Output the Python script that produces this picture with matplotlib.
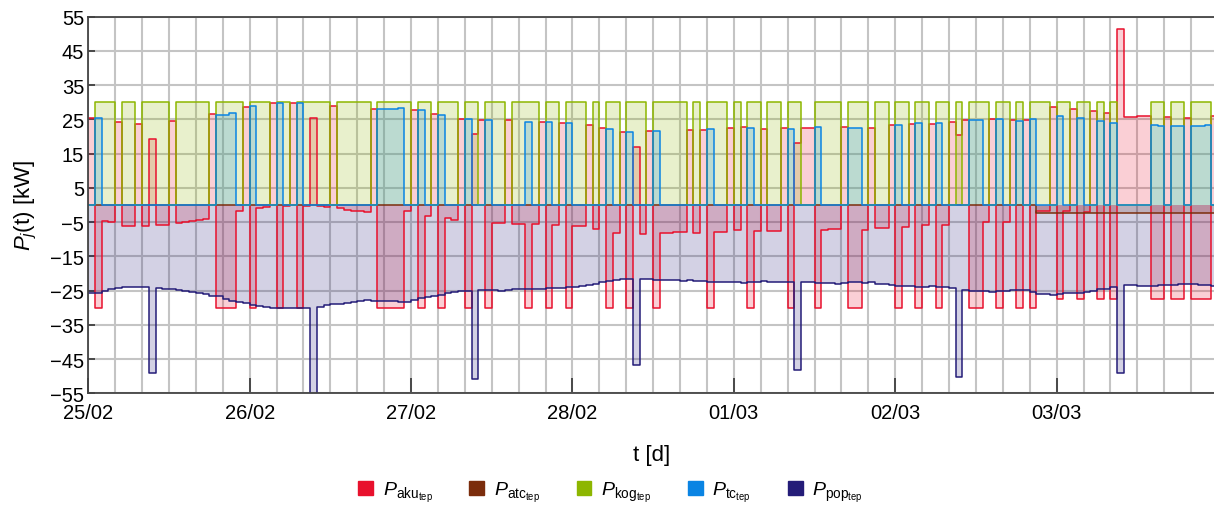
import numpy as np
import matplotlib
matplotlib.use("Agg")
import matplotlib.pyplot as plt
from matplotlib.patches import Patch

plt.rcParams['font.family'] = ['Liberation Sans', 'DejaVu Sans']
plt.rcParams['mathtext.fontset'] = 'custom'
plt.rcParams['mathtext.rm'] = 'Liberation Sans'
plt.rcParams['mathtext.it'] = 'Liberation Sans:italic'

# hourly heat flows, 25/02 00:00 .. 03/03 23:00 [kW]
aku_tep = [
    25.5, -30, -4.8, -5.1, 24.2, -6.0, -6.0, 23.7, -6.0, 19.3, -5.8, -5.9,
    24.5, -5.3, -4.9, -4.6, -4.3, -4.0, 26.5, -30, -30, -30, -1.8, 28.6,
    -30, -0.8, -0.6, 29.8, -30, -0.3, 29.8, -30, -0.3, 25.4, -0.4, -0.6,
    29.0, -1.0, -1.5, -1.7, -1.9, -2.0, 27.9, -30, -30, -30, -30, -1.9,
    27.8, -30, -3.1, 26.6, -30, -3.9, -4.4, 25.1, -30, 20.8, 24.8, -30,
    -5.4, -5.4, 24.8, -5.6, -5.6, -30, -5.6, 24.2, -30, -5.9, 24.0, -30,
    -6.1, -6.2, 23.4, -7.0, 22.4, -30, -8.3, 21.3, -30, 16.9, -8.5, 21.6,
    -30, -8.2, -8.1, -8.0, -8.0, 21.9, -8.2, 22.0, -30, -7.8, -7.8, 22.5,
    -7.3, 22.7, -30, -7.7, 22.2, -7.6, -7.6, 22.4, -30, 18.1, 22.5, 22.5,
    -30, -7.2, -7.1, -7.0, 22.7, -30, -30, -7.3, 22.5, -6.8, -6.8, 23.4,
    -30, -6.3, 23.7, -30, -5.9, 23.7, -30, -5.9, 24.2, 20.3, 24.7, -30,
    -30, -5.1, 25.2, -30, -4.9, 24.9, -30, 24.7, -30, -1.7, -1.9, 28.6,
    -27.5, -1.9, 27.9, -27.5, -2.1, 27.3, -27.5, 26.8, -27.5, 51.3, 25.7, 25.7,
    26.0, 26.0, -27.5, -27.5, 25.7, -27.5, -27.5, 25.4, -27.5, -27.5, -27.5, 25.9,
]
atc_tep = [0.0] * 141 + [-2.4] * 27
kog_tep = [
    0, 30, 30, 30, 0, 30, 30, 0, 30, 30, 30, 30, 0, 30, 30, 30, 30, 30, 0, 30, 30, 30, 30, 0,
    30, 30, 30, 0, 30, 30, 0, 30, 30, 30, 30, 30, 0, 30, 30, 30, 30, 30, 0, 30, 30, 30, 30, 30,
    0, 30, 30, 0, 30, 30, 30, 0, 30, 30, 0, 30, 30, 30, 0, 30, 30, 30, 30, 0, 30, 30, 0, 30,
    30, 30, 0, 30, 0, 30, 30, 0, 30, 30, 30, 0, 30, 30, 30, 30, 30, 0, 30, 0, 30, 30, 30, 0,
    30, 0, 30, 30, 0, 30, 30, 0, 30, 30, 0, 0, 30, 30, 30, 30, 0, 30, 30, 30, 0, 30, 30, 0,
    30, 30, 0, 30, 30, 0, 30, 30, 0, 30, 0, 30, 30, 30, 0, 30, 30, 0, 30, 0, 30, 30, 30, 0,
    30, 30, 0, 30, 30, 0, 30, 0, 30, 0, 0, 0, 0, 0, 30, 30, 0, 30, 30, 0, 30, 30, 30, 0,
]
tc_tep = [
    0, 25.5, 0, 0, 0, 0, 0, 0, 0, 0, 0, 0, 0, 0, 0, 0, 0, 0, 0, 26.2, 26.4, 27.0, 0, 0,
    28.9, 0, 0, 0, 29.8, 0, 0, 29.8, 0, 0, 0, 0, 0, 0, 0, 0, 0, 0, 0, 27.9, 27.9, 28.1, 28.3, 0,
    0, 27.6, 0, 0, 26.2, 0, 0, 0, 25.1, 0, 0, 24.8, 0, 0, 0, 0, 0, 24.2, 0, 0, 24.2, 0, 0, 23.9,
    0, 0, 0, 0, 0, 22.2, 0, 0, 21.3, 0, 0, 0, 21.5, 0, 0, 0, 0, 0, 0, 0, 22.1, 0, 0, 0,
    0, 0, 22.6, 0, 0, 0, 0, 0, 22.3, 0, 0, 0, 22.7, 0, 0, 0, 0, 22.4, 22.4, 0, 0, 0, 0, 0,
    23.4, 0, 0, 23.9, 0, 0, 23.9, 0, 0, 0, 0, 24.9, 24.9, 0, 0, 25.2, 0, 0, 24.5, 0, 25.2, 0, 0, 0,
    26.0, 0, 0, 25.3, 0, 0, 24.6, 0, 23.9, 0, 0, 0, 0, 0, 23.4, 23.1, 0, 23.0, 23.0, 0, 23.0, 23.1, 23.3, 0,
]
pop_tep = [
    -25.6, -25.6, -25.1, -24.6, -24.3, -23.9, -23.9, -23.9, -23.9, -49.2, -24.3, -24.4,
    -24.6, -24.8, -25.1, -25.4, -25.6, -25.9, -26.5, -26.7, -27.5, -28.0, -28.2, -28.7,
    -29.3, -29.5, -29.7, -30.0, -30.0, -30.0, -30.0, -30.0, -30.0, -55.8, -29.7, -29.3,
    -29.0, -28.8, -28.5, -28.3, -28.1, -27.9, -28.0, -28.0, -28.0, -28.0, -28.3, -28.2,
    -27.8, -27.3, -26.9, -26.5, -26.2, -25.8, -25.4, -25.1, -25.1, -50.7, -24.9, -24.9,
    -24.8, -25.0, -24.7, -24.6, -24.5, -24.4, -24.4, -24.4, -24.3, -24.3, -24.2, -24.1,
    -23.9, -23.8, -23.4, -23.1, -22.6, -22.3, -22.0, -21.5, -21.5, -46.8, -21.5, -21.6,
    -21.9, -22.0, -22.0, -22.0, -22.1, -22.0, -22.1, -22.2, -22.4, -22.4, -22.4, -22.6,
    -22.6, -22.7, -22.6, -22.4, -22.3, -22.4, -22.4, -22.4, -22.4, -48.1, -22.5, -22.6,
    -22.9, -22.9, -22.8, -23.0, -22.7, -22.6, -22.6, -22.7, -22.6, -23.2, -23.2, -23.4,
    -23.6, -23.6, -23.7, -24.0, -24.1, -23.7, -23.9, -24.1, -24.3, -50.2, -24.8, -25.1,
    -25.1, -25.1, -25.4, -25.1, -25.1, -24.9, -24.8, -24.8, -25.4, -25.9, -26.1, -26.3,
    -26.0, -25.8, -25.6, -25.6, -25.4, -25.1, -24.6, -24.4, -24.1, -49.0, -23.4, -23.4,
    -23.6, -23.6, -23.6, -23.4, -23.3, -23.3, -23.2, -23.1, -23.2, -23.4, -23.4, -23.6,
]
day_labels = ['25/02', '26/02', '27/02', '28/02', '01/03', '02/03', '03/03']

series = [
    (aku_tep, '#e8112d', r'$P_{\mathrm{aku}_{\mathrm{tep}}}$'),
    (atc_tep, '#7b2d0c', r'$P_{\mathrm{atc}_{\mathrm{tep}}}$'),
    (kog_tep, '#8db600', r'$P_{\mathrm{kog}_{\mathrm{tep}}}$'),
    (tc_tep, '#0a84e3', r'$P_{\mathrm{tc}_{\mathrm{tep}}}$'),
    (pop_tep, '#241c78', r'$P_{\mathrm{pop}_{\mathrm{tep}}}$'),
]

hours = np.arange(len(aku_tep) + 1)

fig = plt.figure(figsize=(12.14, 5.06), dpi=100)
ax = fig.add_axes([0.0727, 0.2208, 0.9273, 0.7443])

handles = []
for vals, color, label in series:
    v = np.append(vals, vals[-1])
    ax.fill_between(hours, 0, v, step='post', color=color, alpha=0.2, linewidth=0)
    ax.plot(hours, v, drawstyle='steps-post', color=color, linewidth=1.1)
    handles.append(Patch(facecolor=color, edgecolor=color, label=label))

ax.set_xlim(0, 167.4)
ax.set_ylim(-55, 55)
ax.set_yticks(np.arange(-55, 56, 10))
ax.set_xticks(np.arange(0, 168, 24))
ax.set_xticklabels(day_labels)
ax.set_xticks(np.arange(0, 168, 4), minor=True)

ax.grid(which='major', color='#c4c4c4', linewidth=1.5)
ax.grid(which='minor', axis='x', color='#c4c4c4', linewidth=1.5)
ax.set_axisbelow(True)

ax.tick_params(axis='x', which='major', direction='in', length=11, width=1.2,
               color='#333333', labelsize=14.5, pad=7)
ax.tick_params(axis='x', which='minor', length=0)
ax.tick_params(axis='y', direction='in', length=5, width=1.2,
               color='#333333', labelsize=14.5, pad=3)
for side in ['left', 'bottom', 'top']:
    ax.spines[side].set_color('#444444')
    ax.spines[side].set_linewidth(1.3)
ax.spines['right'].set_visible(False)

ax.set_xlabel('t [d]', fontsize=16, labelpad=16)
ax.set_ylabel(r'$P_j$(t) [kW]', fontsize=16, labelpad=8)

fig.legend(handles=handles, loc='center', bbox_to_anchor=(0.503, 0.026), ncol=5,
           frameon=False, fontsize=14, handlelength=0.75, handleheight=0.75,
           handletextpad=0.5, columnspacing=1.9)

fig.savefig('out.png', dpi=100)
